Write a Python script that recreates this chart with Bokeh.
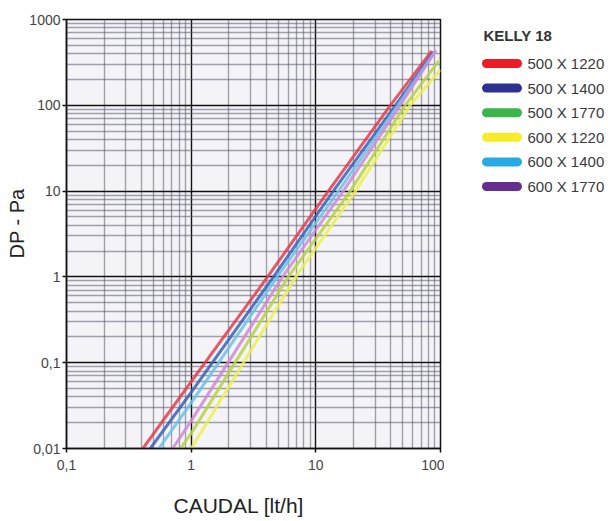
from bokeh.plotting import figure
from bokeh.layouts import row
from bokeh.models import FixedTicker, Title, Range1d
from bokeh.core.properties import value
from bokeh.embed import file_html
from bokeh.resources import INLINE

# ---------------- data ----------------
series_names = ["500 X 1220", "500 X 1400", "500 X 1770",
                "600 X 1220", "600 X 1400", "600 X 1770"]

q_500_1220 = [0.41, 1.0, 4.1, 12.6, 39.6, 85.0]
dp_500_1220 = [0.01, 0.06, 1.0, 10.0, 100.0, 430.0]

q_500_1400 = [0.47, 1.0, 4.57, 13.8, 43.5, 88.0]
dp_500_1400 = [0.01, 0.045, 1.0, 10.0, 100.0, 420.0]

q_500_1770 = [0.82, 1.0, 6.0, 18.9, 52.0, 97.0]
dp_500_1770 = [0.01, 0.015, 1.0, 10.0, 100.0, 330.0]

q_600_1220 = [1.0, 6.9, 20.8, 57.0, 100.0]
dp_600_1220 = [0.01, 1.0, 10.0, 100.0, 260.0]

q_600_1400 = [0.55, 1.0, 4.9, 15.2, 45.5, 90.0]
dp_600_1400 = [0.01, 0.034, 1.0, 10.0, 100.0, 420.0]

q_600_1770 = [0.71, 1.0, 5.4, 16.6, 47.6, 92.0]
dp_600_1770 = [0.01, 0.021, 1.0, 10.0, 100.0, 440.0]

x_ticks = [0.1, 1, 10, 100]
x_tick_labels = ["0,1", "1", "10", "100"]
y_ticks = [0.01, 0.1, 1, 10, 100, 1000]
y_tick_labels = ["0,01", "0,1", "1", "10", "100", "1000"]

legend_title = "KELLY 18"
x_label = "CAUDAL [lt/h]"
y_label = "DP - Pa"

# ---------------- styling ----------------
legend_colors = ["#ED1C24", "#2E3192", "#39B54A", "#F7EC2A", "#27AAE1", "#662D91"]
line_colors = ["#e63c4a", "#3a62b8", "#b9d23e", "#ecf04a", "#6cc0ea", "#d08ad6"]
FONT = "Liberation Sans"

series_q = [q_500_1220, q_500_1400, q_500_1770, q_600_1220, q_600_1400, q_600_1770]
series_dp = [dp_500_1220, dp_500_1400, dp_500_1770, dp_600_1220, dp_600_1400, dp_600_1770]

H = 521
FL, FT, FW, FH = 66, 19, 374, 429
MR = 4
W1 = FL + FW + MR
W2 = 608 - W1

p = figure(width=W1, height=H, x_axis_type="log", y_axis_type="log",
           x_range=(0.1, 100), y_range=(0.01, 1000),
           output_backend="svg", toolbar_location=None,
           min_border_left=FL, min_border_right=MR,
           min_border_top=FT, min_border_bottom=H - FT - FH)
p.background_fill_color = "#f4f4f8"
p.border_fill_color = "white"
p.outline_line_color = "#111111"
p.outline_line_width = 1.5

minor_x = [k * 10.0 ** e for e in range(-1, 2) for k in range(2, 10)]
minor_y = [k * 10.0 ** e for e in range(-2, 3) for k in range(2, 10)]
p.xaxis.ticker = FixedTicker(ticks=x_ticks, minor_ticks=minor_x)
p.yaxis.ticker = FixedTicker(ticks=y_ticks, minor_ticks=minor_y)
p.xaxis.major_label_overrides = {t: l for t, l in zip(x_ticks, x_tick_labels)}
p.yaxis.major_label_overrides = {t: l for t, l in zip(y_ticks, y_tick_labels)}

for ax in (p.xaxis, p.yaxis):
    ax.axis_line_color = "#111111"
    ax.axis_line_width = 1.5
    ax.major_tick_line_color = "#111111"
    ax.major_tick_line_width = 1.5
    ax.major_tick_in = 0
    ax.major_tick_out = 4
    ax.minor_tick_line_color = None
    ax.major_label_text_font = FONT
    ax.major_label_text_font_size = "14px"
    ax.major_label_text_color = "#444444"
p.xaxis.major_label_standoff = 7
p.yaxis.major_label_standoff = 2

for g in (p.xgrid, p.ygrid):
    g.grid_line_color = "#111111"
    g.grid_line_width = 1.4
    g.minor_grid_line_color = "#5a5a68"
    g.minor_grid_line_alpha = 0.55
    g.minor_grid_line_width = 1.4

# data lines
for q, dp, c in zip(series_q, series_dp, line_colors):
    p.line(q, dp, line_color=c, line_width=3, line_alpha=0.85)

# axis titles
p.add_layout(Title(text=y_label, align="left", offset=190, standoff=-2,
                   text_font=FONT, text_font_size="20px",
                   text_font_style="normal", text_color="#222222"), "left")
p.add_layout(Title(text=x_label, align="left", offset=107, standoff=0,
                   padding=(0, 0, 19, 0),
                   text_font=FONT, text_font_size="21px",
                   text_font_style="normal", text_color="#222222"), "below")

# ---------------- legend panel (screen-like coordinates) ----------------
# the frame of this panel is aligned with the main frame (rows FT .. FT+FH)
leg = figure(width=W2, height=H, x_range=Range1d(W1, 608),
             y_range=Range1d(FT + FH, FT),
             output_backend="svg", toolbar_location=None,
             min_border=0, min_border_left=0, min_border_right=0,
             min_border_top=FT, min_border_bottom=H - FT - FH)
leg.axis.visible = False
leg.grid.visible = False
leg.outline_line_color = None
leg.background_fill_color = "white"
leg.border_fill_color = "white"

sw_x0, sw_x1, txt_x, first_y, pitch = 486, 517, 527, 63, 24.6
ys = [first_y + i * pitch for i in range(len(series_names))]
leg.segment(x0=[sw_x0] * len(ys), y0=ys, x1=[sw_x1] * len(ys), y1=ys,
            line_color=legend_colors, line_width=9, line_cap="round")
leg.text(x=[txt_x] * len(ys), y=ys, text=series_names,
         text_font=value(FONT), text_font_size=value("15px"),
         text_baseline="middle", text_align="left", text_color="#3a3a3a")
leg.text(x=[483], y=[35], text=[legend_title],
         text_font=value(FONT), text_font_size=value("15px"),
         text_font_style="bold", text_baseline="middle", text_align="left",
         text_color="#333333")

layout = row(p, leg, spacing=0)
open("out.html", "w").write(file_html(layout, INLINE))
